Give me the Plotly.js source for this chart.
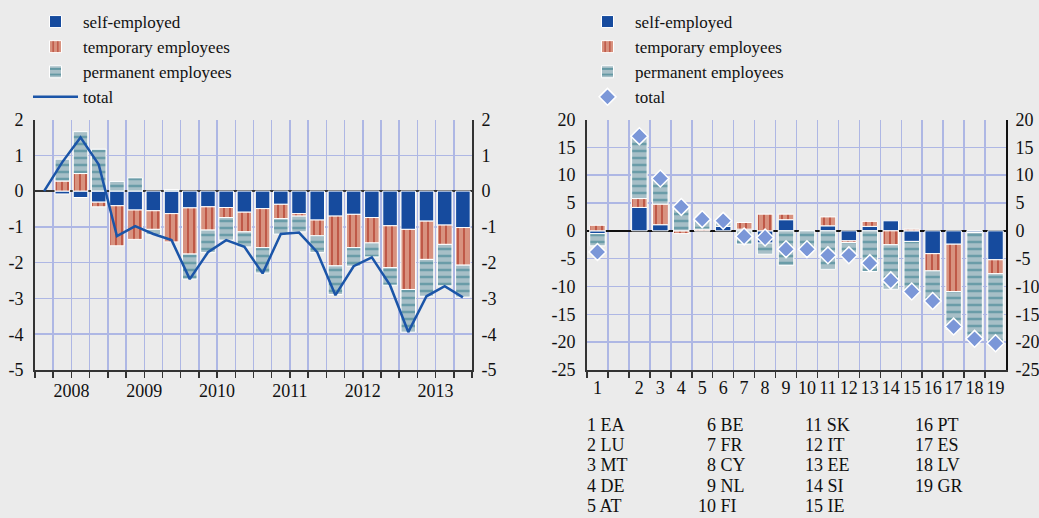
<!DOCTYPE html>
<html>
<head>
<meta charset="utf-8">
<script src="https://cdn.plot.ly/plotly-3.0.1.min.js"></script>
<style>
  html, body { margin: 0; padding: 0; background: #ebebeb; }
  #chart { width: 1039px; height: 518px; }
</style>
</head>
<body>
<div id="chart"></div>
<script>
// ---------- Left panel: quarterly contributions (pp) ----------
const quarters = ['2008 Q1','2008 Q2','2008 Q3','2008 Q4','2009 Q1','2009 Q2','2009 Q3','2009 Q4',
                  '2010 Q1','2010 Q2','2010 Q3','2010 Q4','2011 Q1','2011 Q2','2011 Q3','2011 Q4',
                  '2012 Q1','2012 Q2','2012 Q3','2012 Q4','2013 Q1','2013 Q2','2013 Q3','2013 Q4'];
const years = ['2008','2009','2010','2011','2012','2013'];
const qSelf = [null,-0.08,-0.18,-0.31,-0.41,-0.53,-0.55,-0.63,-0.47,-0.44,-0.46,-0.59,
               -0.49,-0.37,-0.63,-0.81,-0.70,-0.65,-0.74,-0.97,-1.07,-0.84,-0.95,-1.02];
const qTemp = [null,0.28,0.49,-0.13,-1.12,-0.82,-0.52,-0.79,-1.29,-0.65,-0.28,-0.55,
               -1.09,-0.40,-0.07,-0.44,-1.39,-0.93,-0.71,-1.17,-1.68,-1.07,-0.54,-1.05];
const qPerm = [null,0.61,1.17,1.17,0.27,0.37,-0.15,0.04,-0.70,-0.63,-0.63,-0.42,
               -0.71,-0.43,-0.44,-0.47,-0.80,-0.52,-0.39,-0.49,-1.19,-1.03,-1.16,-0.89];
const qTotal = [0,0.81,1.50,0.74,-1.26,-0.98,-1.20,-1.37,-2.46,-1.71,-1.37,-1.56,
                -2.30,-1.20,-1.16,-1.71,-2.91,-2.10,-1.85,-2.63,-3.94,-2.94,-2.66,-2.97];
const leftTicks = [2,1,0,-1,-2,-3,-4,-5];

// ---------- Right panel: country contributions (pp) ----------
const countryNums  = ['1','2','3','4','5','6','7','8','9','10','11','12','13','14','15','16','17','18','19'];
const countryCodes = ['EA','LU','MT','DE','AT','BE','FR','CY','NL','FI','SK','IT','EE','SI','IE','PT','ES','LV','GR'];
const cSelf  = [-0.5,4.2,1.1,0,0,0.8,0.3,-2.2,2.0,0,0.9,-1.8,0.8,1.8,-1.9,-4.1,-2.4,-0.3,-5.2];
const cTemp  = [1.0,1.6,3.7,-0.5,0.3,0,1.2,3.0,1.0,0,1.6,-0.3,0.9,-2.5,0.3,-3.1,-8.5,0,-2.5];
const cPerm  = [-2.2,11.0,4.7,4.5,1.8,0.8,-2.4,-2.0,-6.2,-3.3,-6.9,-2.2,-7.3,-8.0,-9.2,-5.4,-6.8,-19.2,-12.3];
const cTotal = [-3.8,17.0,9.4,4.3,2.1,1.8,-1.0,-1.2,-3.3,-3.3,-4.4,-4.4,-5.8,-8.9,-10.9,-12.6,-17.2,-19.4,-20.2];
const rightTicks = [20,15,10,5,0,-5,-10,-15,-20,-25];

const seriesNames = ['self-employed','temporary employees','permanent employees','total'];

// ---------- styling ----------
const W = 1039, H = 518;
const px = v => v / W;
const py = v => 1 - v / H;
const FONT = '"Liberation Serif", "Times New Roman", Times, serif';
const FS = 18;
const GRID = '#aeb7e4';
const BLUE = '#164b9e';
const selfStyle = { color: BLUE, line: { color: '#ffffff', width: 1 } };
const tempStyle = { color: '#d8927f', line: { color: '#ffffff', width: 1 },
  pattern: { shape: '|', fgcolor: '#b23a2a', bgcolor: '#d8927f', size: 6, solidity: 0.22, fillmode: 'replace' } };
const permStyle = { color: '#a7bfc7', line: { color: '#ffffff', width: 1 },
  pattern: { shape: '-', fgcolor: '#4f8c99', bgcolor: '#a7bfc7', size: 7, solidity: 0.25, fillmode: 'replace' } };

const traces = [
  { type: 'bar', name: seriesNames[0], x: quarters, y: qSelf, marker: selfStyle, xaxis: 'x', yaxis: 'y', legend: 'legend' },
  { type: 'bar', name: seriesNames[1], x: quarters, y: qTemp, marker: tempStyle, xaxis: 'x', yaxis: 'y', legend: 'legend' },
  { type: 'bar', name: seriesNames[2], x: quarters, y: qPerm, marker: permStyle, xaxis: 'x', yaxis: 'y', legend: 'legend' },
  { type: 'scatter', mode: 'lines', name: seriesNames[3], x: quarters, y: qTotal,
    line: { color: '#1b55a8', width: 2.5 }, xaxis: 'x3', yaxis: 'y3', legend: 'legend' },

  { type: 'bar', name: seriesNames[0], x: countryNums, y: cSelf, marker: selfStyle, width: 0.74, xaxis: 'x2', yaxis: 'y2', legend: 'legend2' },
  { type: 'bar', name: seriesNames[1], x: countryNums, y: cTemp, marker: tempStyle, width: 0.74, xaxis: 'x2', yaxis: 'y2', legend: 'legend2' },
  { type: 'bar', name: seriesNames[2], x: countryNums, y: cPerm, marker: permStyle, width: 0.74, xaxis: 'x2', yaxis: 'y2', legend: 'legend2' },
  { type: 'scatter', mode: 'markers', name: seriesNames[3], x: countryNums, y: cTotal,
    marker: { symbol: 'diamond', size: 13, color: '#7b97d8', line: { color: '#ffffff', width: 1.5 } },
    xaxis: 'x2', yaxis: 'y4', legend: 'legend2' }
];

const yDomain = [py(370), py(119.5)];
const tickFont = { family: FONT, size: FS, color: '#111' };
const baseX = {
  type: 'category', categoryorder: 'array', tickson: 'boundaries',
  showticklabels: false, ticks: 'outside', ticklen: 6, tickcolor: '#333', tickwidth: 1.5,
  showgrid: true, gridcolor: GRID, gridwidth: 1.5, tickfont: tickFont,
  showline: true, linecolor: '#333', linewidth: 1.5, zeroline: false, fixedrange: true
};
const baseY = {
  tickmode: 'array', showgrid: true, gridcolor: GRID, gridwidth: 1.5, tickfont: tickFont,
  zeroline: true, zerolinecolor: '#333', zerolinewidth: 2,
  showline: true, linecolor: '#333', linewidth: 2, ticks: '', ticklabelstandoff: 6, fixedrange: true
};
const mirrorY = {
  tickmode: 'array', side: 'right', showgrid: false, zeroline: false, tickfont: tickFont,
  showline: true, linecolor: '#333', linewidth: 2, ticks: '', ticklabelstandoff: 4, fixedrange: true
};

// country key at the bottom
const colDigitEnd = [596, 716, 823, 933];
const annotations = countryCodes.map((code, i) => {
  const col = Math.floor(i / 5), row = i % 5;
  const num = countryNums[i];
  return {
    xref: 'paper', yref: 'paper', showarrow: false, borderpad: 0,
    x: px(colDigitEnd[col] - num.length * 9 - 1), xanchor: 'left',
    y: py(425 + row * 20.2), yanchor: 'middle',
    text: num + ' ' + code, font: { family: FONT, size: FS, color: '#111' }
  };
});

const legendFont = { family: FONT, size: 17, color: '#111' };
// year labels sit midway between the 2nd and 3rd quarter of each year
const yearCentres = years.map(y => quarters.indexOf(y + ' Q2') + 0.5);

const layout = {
  width: W, height: H,
  margin: { l: 0, r: 0, t: 0, b: 0 },
  paper_bgcolor: '#ebebeb', plot_bgcolor: '#ebebeb',
  font: { family: FONT, size: FS, color: '#111' },
  barmode: 'relative', bargap: 0.2,
  hovermode: false, showlegend: true,
  xaxis: Object.assign({}, baseX, { domain: [px(35), px(472)], anchor: 'y', categoryarray: quarters,
            range: [-0.5, quarters.length - 0.5] }),
  xaxis3: { overlaying: 'x', anchor: 'y', type: 'category', categoryorder: 'array', categoryarray: quarters,
            range: [-0.5, quarters.length - 0.5], tickfont: tickFont,
            tickmode: 'array', tickvals: yearCentres, ticktext: years, tickangle: 0,
            showgrid: false, zeroline: false, showline: false, ticks: '', ticklabelstandoff: 8, fixedrange: true },
  yaxis: Object.assign({}, baseY, { domain: yDomain, anchor: 'x', range: [-5, 2],
            tickvals: leftTicks, ticktext: leftTicks.map(String) }),
  yaxis3: Object.assign({}, mirrorY, { overlaying: 'y', anchor: 'x', range: [-5, 2],
            tickvals: leftTicks, ticktext: leftTicks.map(String) }),

  xaxis2: Object.assign({}, baseX, { domain: [px(587), px(1006)], anchor: 'y2',
            categoryarray: [countryNums[0], ' '].concat(countryNums.slice(1)),
            range: [-0.5, countryNums.length + 0.5],
            showticklabels: true, tickmode: 'linear', tick0: 0, dtick: 1, tickangle: 0, ticklabelstandoff: 1 }),
  yaxis2: Object.assign({}, baseY, { domain: yDomain, anchor: 'x2', range: [-25, 20],
            tickvals: rightTicks, ticktext: rightTicks.map(String), zerolinecolor: '#111' }),
  yaxis4: Object.assign({}, mirrorY, { overlaying: 'y2', anchor: 'x2', range: [-25, 20],
            tickvals: rightTicks, ticktext: rightTicks.map(String), linecolor: '#111' }),

  legend: { x: px(28), y: py(4), xanchor: 'left', yanchor: 'top', bgcolor: 'rgba(0,0,0,0)',
            traceorder: 'normal', itemwidth: 45, tracegroupgap: 0, font: legendFont },
  legend2: { x: px(580), y: py(4), xanchor: 'left', yanchor: 'top', bgcolor: 'rgba(0,0,0,0)',
            traceorder: 'normal', itemwidth: 45, tracegroupgap: 0, font: legendFont },
  annotations: annotations
};

Plotly.newPlot('chart', traces, layout, { displayModeBar: false, staticPlot: true });
</script>
</body>
</html>
